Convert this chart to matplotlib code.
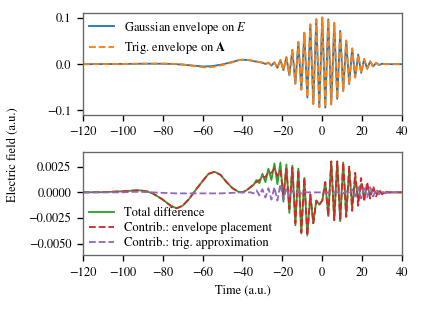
import numpy as np
import matplotlib
matplotlib.use("Agg")
import matplotlib.pyplot as plt
from matplotlib.ticker import FuncFormatter

plt.rcParams['font.family'] = ['STIXGeneral', 'Liberation Serif', 'DejaVu Serif']
plt.rcParams['mathtext.fontset'] = 'stix'
plt.rcParams['font.size'] = 7.5
plt.rcParams['axes.unicode_minus'] = True

# ---- upper panel: field of the two pulses ----
t_top = [-120, -110, -100, -90, -80, -75, -70, -65, -62, -60, -58, -55, -50,
         -45, -42, -40, -38, -36, -33, -30,
         -28.5, -27, -25.5, -24, -22.5, -21, -19.5, -18, -16.5, -15, -13.5,
         -12, -10.5, -9, -7.5, -6, -4.5, -3, -1.5, 0, 1.5, 3, 4.5, 6, 7.5,
         9, 10.5, 12, 13.5, 15, 16.5, 18, 19.5, 21, 22.5, 24, 25.5, 27,
         28.5, 30, 31.5, 35, 40]
osc_top = [0.0005, 0.003, -0.003, 0.004, -0.008, 0.009, -0.013, 0.015,
           -0.024, 0.031, -0.042, 0.048, -0.055, 0.068, -0.072, 0.086,
           -0.086, 0.097, -0.093, 0.101, -0.094, 0.097, -0.087, 0.089,
           -0.075, 0.072, -0.058, 0.051, -0.043, 0.034, -0.029, 0.021,
           -0.019, 0.011, -0.010, 0.006, -0.005, 0.003, -0.002, 0.001,
           0.0, 0.0, 0.0]
gauss_E = [0.0, 0.0002, 0.0005, 0.001, 0.001, 0.0004, -0.001, -0.003,
           -0.0042, -0.0048, -0.0048, -0.004, -0.0005, 0.005, 0.0085,
           0.0095, 0.0092, 0.008, 0.0055, 0.003] + osc_top
trig_A = [0.0, 0.0002, 0.0005, 0.001, 0.0012, 0.0008, -0.0005, -0.0035,
          -0.0055, -0.0065, -0.007, -0.006, -0.002, 0.004, 0.0085,
          0.0097, 0.0095, 0.0085, 0.006, 0.0035] + osc_top

# ---- lower panel: differences ----
t_bot = [-120, -110, -100, -95, -92, -88, -85, -80, -76, -73, -70, -67, -64,
         -60, -57, -54, -51, -48, -45, -42, -40, -38, -36,
         -34.5, -33, -31.5, -30, -28.5, -27, -25.5, -24, -22.5, -21, -19.5,
         -18, -16.5, -15, -13.5, -12, -10.5, -9, -7.5, -6, -4.5, -3, -1.5,
         0, 1.5, 3, 4.5, 6, 7.5, 9, 10.5, 12, 13.5, 15, 16.5, 18, 19.5, 21,
         22.5, 24, 25.5, 27, 28.5, 30, 31.5, 33, 36, 40]
slow_diff = [0.0, 0.00002, 0.0001, 0.00017, 0.0002, 0.0001, -0.0001,
             -0.0007, -0.0013, -0.00155, -0.0013, -0.0007, 0.0001, 0.0011,
             0.0018, 0.002, 0.0017, 0.001, 0.0004, 0.00005, 0.0, 0.0002,
             0.0005]
envelope_part = slow_diff + [
    0.0008, 0.0010, 0.0012, 0.0015, 0.0015, 0.0019, 0.0019, 0.0023,
    0.0016, 0.0021, -0.0002, 0.0023, -0.0016, 0.0024, -0.0030, 0.0022,
    -0.0039, 0.0014, -0.0042, -0.0002, -0.0030, -0.0008, -0.0012,
    -0.0008, 0.0010, -0.0023, 0.0030, -0.0027, 0.0030, -0.0028, 0.0029,
    -0.0024, 0.0025, -0.0018, 0.0019, -0.0013, 0.0014, -0.0009, 0.0010,
    -0.0006, 0.0006, -0.0004, 0.0003, -0.0002, 0.0001, 0.0, 0.0, 0.0]
trig_part = [0.0, 0.0, 0.0, 0.00005, 0.00005, 0.00003, 0.0, -0.00005,
             -0.00008, -0.0001, -0.0001, -0.0001, -0.0001, -0.0001,
             -0.0001, -0.0001, -0.0001, -0.00008, -0.00005, -0.00002, 0.0,
             0.0, 0.0,
             -0.0001, 0.0002, -0.0003, 0.0003, -0.0005, 0.0004, -0.0007,
             0.0005, -0.0008, 0.0008, -0.0007, 0.0004, -0.0004, 0.0002,
             -0.0002, 0.0001, -0.0001, 0.00005, 0.0, 0.0, 0.0, 0.0, 0.0,
             0.0, 0.0, 0.0, 0.0, 0.0, 0.0, 0.00005, -0.0001, 0.0001,
             -0.0002, 0.0003, -0.0004, 0.0005, -0.0006, 0.0006, -0.0005,
             0.0005, -0.0004, 0.0003, -0.0002, 0.0001, -0.0001, 0.0, 0.0,
             0.0]
total_diff = slow_diff + [
    0.0007, 0.0012, 0.0009, 0.0018, 0.0010, 0.0023, 0.0012, 0.0028,
    0.0008, 0.0029, -0.0009, 0.0027, -0.0020, 0.0026, -0.0032, 0.0023,
    -0.0040, 0.0014, -0.0042, -0.0002, -0.0030, -0.0008, -0.0012,
    -0.0008, 0.0010, -0.0023, 0.0030, -0.0027, 0.0030, -0.0028, 0.0029,
    -0.0023, 0.0023, -0.0015, 0.0015, -0.0008, 0.0008, -0.0003, 0.0005,
    -0.0001, 0.0002, -0.0001, 0.0001, -0.0001, 0.0, 0.0, 0.0, 0.0]

xticks = [-120, -100, -80, -60, -40, -20, 0, 20, 40]


def fmt(decimals):
    return FuncFormatter(lambda v, pos: f'{v:.{decimals}f}'.replace('-', '\u2212'))


fig = plt.figure(figsize=(421 / 120, 310 / 120), dpi=120)
ax1 = fig.add_axes([0.197, 0.629, 0.758, 0.328])
ax2 = fig.add_axes([0.197, 0.177, 0.758, 0.332])

ax1.plot(t_top, gauss_E, color='tab:blue', lw=1.1,
         label=r'Gaussian envelope on $E$')
ax1.plot(t_top, trig_A, color='tab:orange', lw=1.1, ls='--',
         label=r'Trig. envelope on $\mathbf{A}$')
ax1.set_ylim(-0.11, 0.11)
ax1.set_yticks([-0.1, 0.0, 0.1])
ax1.yaxis.set_major_formatter(fmt(1))
ax1.legend(loc='upper left', frameon=False, borderaxespad=0.1,
           labelspacing=0.35)

ax2.plot(t_bot, total_diff, color='tab:green', lw=1.1,
         label='Total difference')
ax2.plot(t_bot, envelope_part, color='tab:red', lw=1.1, ls='--',
         label='Contrib.: envelope placement')
ax2.plot(t_bot, trig_part, color='tab:purple', lw=1.1, ls='--',
         label='Contrib.: trig. approximation')
ax2.set_ylim(-0.0061, 0.0039)
ax2.set_yticks([-0.005, -0.0025, 0.0, 0.0025])
ax2.yaxis.set_major_formatter(fmt(4))
ax2.legend(loc='lower left', frameon=False, borderaxespad=0.1,
           labelspacing=0.2)
ax2.set_xlabel('Time (a.u.)')

for ax in (ax1, ax2):
    ax.set_xlim(-120, 40)
    ax.set_xticks(xticks)
    for s in ax.spines.values():
        s.set_color('0.4')

fig.text(0.03, 0.5, 'Electric field (a.u.)', rotation=90,
         ha='center', va='center')

fig.savefig('out.png', dpi=120)
